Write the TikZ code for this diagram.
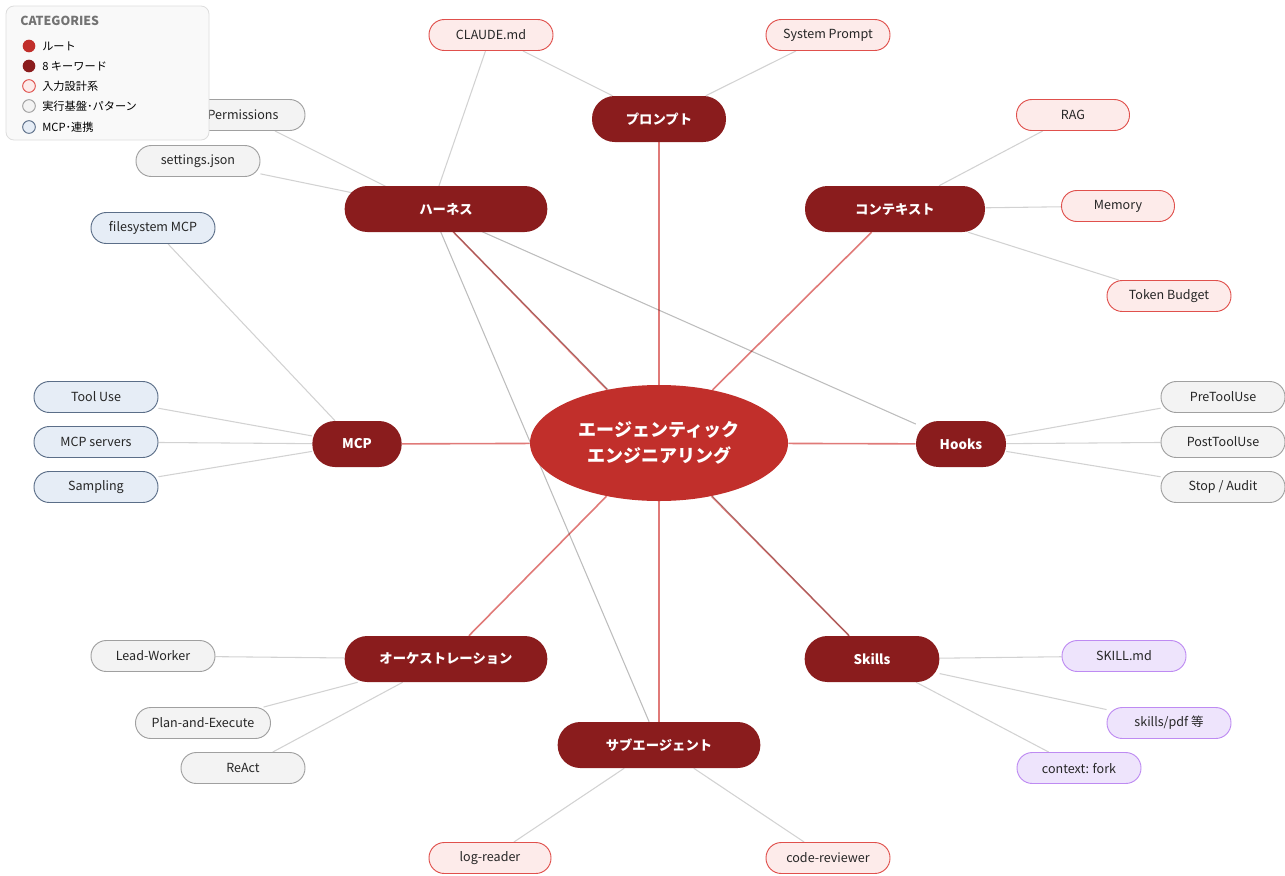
\documentclass[tikz,border=0pt]{standalone}
\usepackage{fontspec}
\setmainfont{Noto Sans CJK JP}
\usetikzlibrary{positioning}
\usetikzlibrary{shapes.geometric}
\definecolor{root colour}{HTML}{C12F2B}
\definecolor{key colour}{HTML}{8A1C1D}
\definecolor{input fill}{HTML}{FDEBEA}
\definecolor{input draw}{HTML}{E0504C}
\definecolor{base fill}{HTML}{F3F3F3}
\definecolor{base draw}{HTML}{A0A0A0}
\definecolor{mcp fill}{HTML}{E6EDF6}
\definecolor{mcp draw}{HTML}{5B6E88}
\definecolor{skill fill}{HTML}{EEE4FC}
\definecolor{skill draw}{HTML}{BE8BF2}
\definecolor{spoke colour}{HTML}{E07A78}
\definecolor{link colour}{HTML}{BDBDBD}
\definecolor{leaf line colour}{HTML}{D2D2D2}
\definecolor{legend fill}{HTML}{F9F9F9}
\definecolor{legend draw}{HTML}{DDDDDD}
\tikzset{
    % Lines first
    spoke/.style={draw=spoke colour, line width=1.2pt},
    cross link/.style={draw=link colour, line width=0.8pt, blend mode=multiply},
    leaf line/.style={draw=leaf line colour, line width=0.8pt},
%
    % The centre and the keywords
    root/.style={
        ellipse, fill=root colour, text=white, inner sep=0,
        minimum width=193.5pt, minimum height=87pt,
        font=\bfseries\fontsize{13.5}{19.5}\selectfont, align=center},
    keyword/.style={
        rectangle, rounded corners=17pt, fill=key colour, text=white,
        inner sep=0, minimum height=34.5pt, minimum width=#1,
        font=\bfseries\fontsize{10}{12}\selectfont},
    keyword/.default=152pt,
%
    % Leaves, one fill per category
    leaf/.style={
        rectangle, rounded corners=11.5pt, draw, line width=0.7pt,
        inner sep=0, minimum height=23.25pt, minimum width=#1,
        text=black!85, font=\fontsize{9.4}{11}\selectfont},
    leaf/.default=93pt,
    input/.style={leaf=#1, fill=input fill, draw=input draw},
    input/.default=93pt,
    base/.style={leaf=#1, fill=base fill, draw=base draw},
    base/.default=93pt,
    mcp/.style={leaf=#1, fill=mcp fill, draw=mcp draw},
    mcp/.default=93pt,
    skill/.style={leaf=#1, fill=skill fill, draw=skill draw},
    skill/.default=93pt,
%
    legend dot/.style={circle, inner sep=0, minimum size=9.5pt, line width=0.7pt},
    legend text/.style={anchor=west, inner sep=0, font=\fontsize{8.4}{10}\selectfont},
}
\pgfdeclarelayer{background}
\pgfsetlayers{background,main}

\begin{document}
\begin{tikzpicture}[x=0.75pt, y=-0.75pt]
\useasboundingbox (0,0) rectangle (1285,875);

\path
    (659,443) node [root] (root) {エージェンティック\\エンジニアリング}
    (659,119) node [keyword=100.5pt] (prompt) {プロンプト}
    (446,209) node [keyword] (harness) {ハーネス}
    (895,209) node [keyword=135pt] (context) {コンテキスト}
    (357,444) node [keyword=67pt] (mcp) {MCP}
    (961,444) node [keyword=67.5pt] (hooks) {Hooks}
    (446,659) node [keyword] (orch) {オーケストレーション}
    (872,659) node [keyword=101pt] (skills) {Skills}
    (659,745) node [keyword] (subagent) {サブエージェント};
% the links of the harness meet a little left of its centre
\coordinate (harness hub) at (431,209);

% leaves
\path
    (491,35) node [input] (claude md) {CLAUDE.md}
    (828,35) node [input] (system prompt) {System Prompt}
    (1073,115) node [input=84.75pt] (rag) {RAG}
    (1118,206) node [input=84.75pt] (memory) {Memory}
    (1169,296) node [input] (token budget) {Token Budget}
    (490,858) node [input=91.5pt] (log reader) {log-reader}
    (828,858) node [input] (code reviewer) {code-reviewer}
    (243,115) node [base] (permissions) {Permissions}
    (198,161) node [base] (settings) {settings.json}
    (1223,397) node [base] (pre tool) {PreToolUse}
    (1223,442) node [base] (post tool) {PostToolUse}
    (1223,487) node [base] (stop audit) {Stop / Audit}
    (153,656) node [base] (lead worker) {Lead-Worker}
    (203,723) node [base=101.25pt] (plan exec) {Plan-and-Execute}
    (243,768) node [base] (react) {ReAct}
    (153,228) node [mcp] (fs mcp) {filesystem MCP}
    (96,397) node [mcp] (tool use) {Tool Use}
    (96,442) node [mcp] (mcp servers) {MCP servers}
    (96,487) node [mcp] (sampling) {Sampling}
    (1124,656) node [skill] (skill md) {SKILL.md}
    (1169,723) node [skill] (skills pdf) {skills/pdf 等}
    (1079,768) node [skill] (ctx fork) {context: fork};

\begin{pgfonlayer}{background}
\foreach \k in {prompt, harness hub, context, mcp, hooks, orch, skills, subagent}
    \draw [spoke] (root) -- (\k);
\draw [cross link] (harness hub) -- (hooks);
\draw [cross link] (harness hub) -- (subagent);
\draw [cross link] (harness hub) -- (skills);
\foreach \a/\b in {claude md/prompt, system prompt/prompt, claude md/harness hub,
        permissions/harness hub, settings/harness hub, rag/context, memory/context,
        token budget/context, fs mcp/mcp, tool use/mcp, mcp servers/mcp,
        sampling/mcp, pre tool/hooks, post tool/hooks, stop audit/hooks,
        lead worker/orch, plan exec/orch, react/orch, skill md/skills,
        skills pdf/skills, ctx fork/skills, log reader/subagent,
        code reviewer/subagent}
    \draw [leaf line] (\a) -- (\b);
\end{pgfonlayer}

% legend on top
\path [fill=legend fill, draw=legend draw, rounded corners=6pt, line width=0.6pt]
    (6,6) rectangle (209,140);
\node [anchor=west, inner sep=0, text=black!55,
    font=\bfseries\fontsize{9.3}{11}\selectfont] (legend title) at (20,21) {CATEGORIES};
\path
    (29,46) node [legend dot, fill=root colour] (dot root) {}
    (29,66) node [legend dot, fill=key colour] (dot key) {}
    (29,86) node [legend dot, fill=input fill, draw=input draw] (dot input) {}
    (29,106) node [legend dot, fill=base fill, draw=base draw] (dot base) {}
    (29,127) node [legend dot, fill=mcp fill, draw=mcp draw] (dot mcp) {};
\node [legend text] at (42,46) {ルート};
\node [legend text] at (42,66) {8 キーワード};
\node [legend text] at (42,86) {入力設計系};
\node [legend text] at (42,106) {実行基盤･パターン};
\node [legend text] at (42,127) {MCP･連携};

\end{tikzpicture}
\end{document}
